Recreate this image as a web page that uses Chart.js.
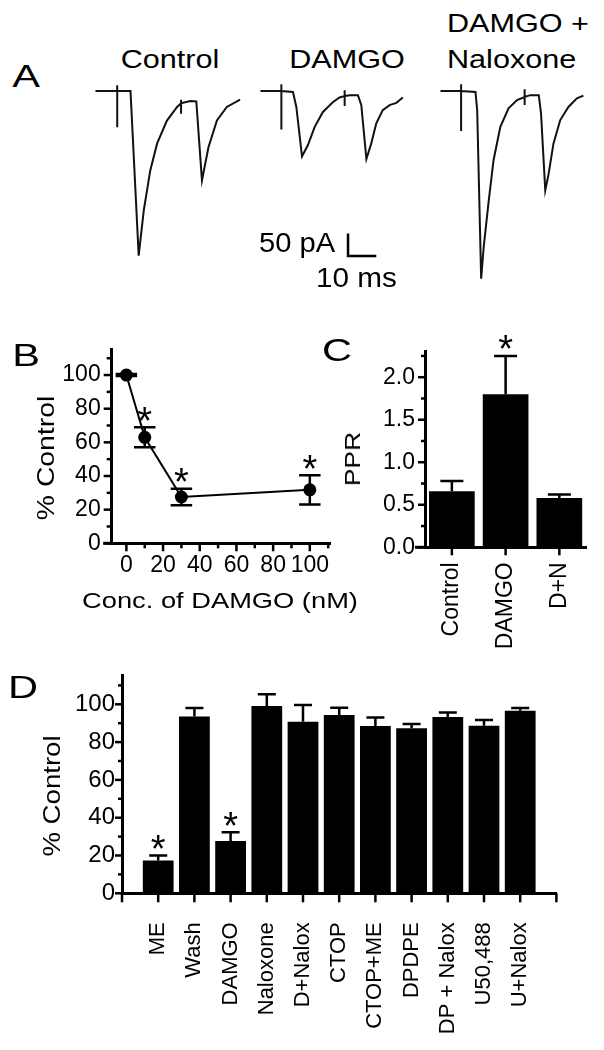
<!DOCTYPE html>
<html>
<head>
<meta charset="utf-8">
<title>DAMGO / opioid receptor figure</title>
<script src="https://cdn.jsdelivr.net/npm/chart.js@4.4.1/dist/chart.umd.min.js"></script>
<style>
  html, body { margin: 0; padding: 0; background: #fff; }
  #fig { position: relative; width: 604px; height: 1050px; overflow: hidden;
         font-family: "Liberation Sans", Arial, sans-serif; color: #000; }
  #fig canvas { position: absolute; }
  .t { position: absolute; white-space: nowrap; line-height: 1; }
</style>
</head>
<body>
<div id="fig">
  <canvas id="trCtrl"  width="161" height="204" style="left:87px;top:82px"></canvas>
  <canvas id="trDamgo" width="161" height="204" style="left:252px;top:82px"></canvas>
  <canvas id="trNalox" width="161" height="204" style="left:432px;top:82px"></canvas>
  <canvas id="chB" width="340" height="300" style="left:0;top:320px"></canvas>
  <canvas id="chC" width="264" height="330" style="left:340px;top:320px"></canvas>
  <canvas id="chD" width="604" height="400" style="left:0;top:650px"></canvas>
</div>
<script>
// ---------- A: example currents (time in ms, current in pA from baseline) ----------
const ctrlT  = [0, 7.7, 7.7, 7.7, 7.7, 12.4, 15.3, 17.1, 19.4, 21.8, 25.3, 28.9, 30.3, 30.3, 30.3, 30.3, 33.6, 35.7, 37.7, 40.0, 43.0, 46.5, 51.2];
const ctrlI  = [0, 0, 13, -80, 0, 0, -363, -263, -175, -116, -65, -35, -27, -19, -50, -27, -22, -23, -197, -124, -65, -35, -19];
const damgoT = [0, 7.4, 7.4, 7.4, 7.4, 11.5, 12.7, 14.7, 16.8, 19.2, 22.1, 25.7, 28.0, 29.8, 29.8, 29.8, 29.8, 31.6, 34.5, 35.7, 37.5, 39.2, 41.0, 43.3, 45.7, 48.1, 50.4];
const damgoI = [0, 0, 15, -85, 0, -2, -35, -144, -119, -79, -46, -24, -14, -11, 2, -33, -11, -9, -9, -31, -150, -116, -71, -42, -31, -26, -14];
const naloxT = [0, 7.3, 7.3, 7.3, 7.3, 12.4, 13.0, 14.4, 15.3, 17.1, 18.8, 21.2, 24.1, 27.1, 29.8, 29.8, 29.8, 29.8, 31.8, 34.8, 35.6, 37.1, 38.3, 40.0, 42.4, 45.3, 48.3, 50.6];
const naloxI = [0, 0, 15, -88, 0, -2, -42, -414, -344, -241, -152, -79, -38, -20, -13, 4, -31, -13, -9, -9, -49, -219, -182, -116, -64, -35, -16, -10];
const scaleBarMs = 10;
const scaleBarPA = 50;
const scaleBarAt = [31, -364];   // ms, pA in the DAMGO trace

// ---------- B: concentration response ----------
const bConc = [0, 10, 30, 100];
const bPct  = [100, 63, 27.5, 31.8];
const bSem  = [0.6, 5.9, 4.9, 8.7];
const bStar = [false, true, true, true];
const bXTicks = [0, 20, 40, 60, 80, 100];
const bXMinor = [10, 30, 50, 70, 90, 110];
const bYTicks = [0, 20, 40, 60, 80, 100];
const bYMinor = [10, 30, 50, 70, 90, 110];

// ---------- C: paired pulse ratio ----------
const cCats = ['Control', 'DAMGO', 'D+N'];
const cPPR  = [0.66, 1.80, 0.58];
const cSem  = [0.12, 0.45, 0.04];
const cStar = [false, true, false];
const cYTicks = [0, 0.5, 1.0, 1.5, 2.0];
const cYMinor = [0.25, 0.75, 1.25, 1.75, 2.25];

// ---------- D: drug panel ----------
const dCats = ['ME', 'Wash', 'DAMGO', 'Naloxone', 'D+Nalox', 'CTOP', 'CTOP+ME', 'DPDPE', 'DP + Nalox', 'U50,488', 'U+Nalox'];
const dPct  = [17.3, 93.5, 27.7, 99.1, 90.8, 94.4, 88.5, 87.3, 93.3, 88.7, 96.6];
const dSem  = [2.7, 4.5, 4.6, 6.2, 8.8, 3.8, 4.5, 2.3, 2.3, 3.0, 1.4];
const dStar = [true, false, true, false, false, false, false, false, false, false, false];
const dXTicks = [-1, 0, 1, 2, 3, 4, 5, 6, 7, 8, 9, 10, 11];
const dYTicks = [0, 20, 40, 60, 80, 100];
const dYMinor = [10, 30, 50, 70, 90, 110];

Chart.defaults.font.family = '"Liberation Sans", Arial, sans-serif';
Chart.defaults.color = '#000';

// tick marks, error bars, stars and the scale bar, all placed through the chart scales
function marks(cfg) {
  return {
    id: 'marks',
    afterDatasetsDraw(chart) {
      const ctx = chart.ctx;
      const area = chart.chartArea;
      ctx.save();
      ctx.strokeStyle = '#000';
      ctx.fillStyle = '#000';
      if (cfg.xLead) {
        ctx.lineWidth = 3;
        ctx.beginPath();
        ctx.moveTo(area.left - cfg.xLead, area.bottom);
        ctx.lineTo(area.left, area.bottom);
        ctx.stroke();
      }
      ctx.lineWidth = 2.5;
      (cfg.ticks || []).forEach(tk => {
        const sc = chart.scales[tk.axis];
        tk.values.forEach(v => {
          const p = sc.getPixelForValue(v);
          ctx.beginPath();
          if (tk.axis === 'y') {
            ctx.moveTo(area.left, p);
            ctx.lineTo(area.left - tk.len, p);
          } else {
            ctx.moveTo(p, area.bottom);
            ctx.lineTo(p, area.bottom + tk.len);
          }
          ctx.stroke();
        });
      });
      if (cfg.err) {
        const ys = chart.scales.y;
        const half = cfg.cap / 2;
        chart.getDatasetMeta(0).data.forEach((el, i) => {
          const v = cfg.values[i];
          const top = ys.getPixelForValue(v + cfg.err[i]);
          const bot = ys.getPixelForValue(cfg.both ? v - cfg.err[i] : v);
          ctx.beginPath();
          ctx.moveTo(el.x, bot);
          ctx.lineTo(el.x, top);
          ctx.moveTo(el.x - half, top);
          ctx.lineTo(el.x + half, top);
          if (cfg.both) {
            ctx.moveTo(el.x - half, bot);
            ctx.lineTo(el.x + half, bot);
          }
          ctx.stroke();
          if (cfg.stars && cfg.stars[i]) {
            ctx.font = '38px "Liberation Sans"';
            ctx.textAlign = 'center';
            ctx.textBaseline = 'alphabetic';
            ctx.fillText('*', el.x, top - 15.5 + 0.58 * 38);
          }
        });
      }
      if (cfg.scaleBar) {
        const xs = chart.scales.x, ys = chart.scales.y;
        const x0 = xs.getPixelForValue(scaleBarAt[0]);
        const y0 = ys.getPixelForValue(scaleBarAt[1]);
        const x1 = xs.getPixelForValue(scaleBarAt[0] + scaleBarMs);
        const y1 = ys.getPixelForValue(scaleBarAt[1] + scaleBarPA);
        ctx.lineWidth = 2.5;
        ctx.beginPath();
        ctx.moveTo(x0, y1);
        ctx.lineTo(x0, y0);
        ctx.lineTo(x1, y0);
        ctx.stroke();
      }
      ctx.restore();
    }
  };
}

function traceChart(id, t, cur, withBar) {
  return new Chart(document.getElementById(id), {
    type: 'scatter',
    data: {
      datasets: [{
        data: t.map((v, k) => ({ x: v, y: cur[k] })),
        showLine: true, borderColor: '#111', borderWidth: 2,
        pointRadius: 0, tension: 0
      }]
    },
    options: {
      responsive: false, animation: false,
      layout: { autoPadding: false, padding: 0 },
      plugins: { legend: { display: false }, tooltip: { enabled: false } },
      scales: {
        x: { type: 'linear', display: false, min: -3, max: 54 },
        y: { display: false, min: -430, max: 20 }
      }
    },
    plugins: withBar ? [marks({ scaleBar: true })] : []
  });
}

traceChart('trCtrl', ctrlT, ctrlI, false);
traceChart('trDamgo', damgoT, damgoI, true);
traceChart('trNalox', naloxT, naloxI, false);

const axisLook = {
  grid: { drawOnChartArea: false, drawTicks: false },
  border: { color: '#000', width: 3 }
};

// B
new Chart(document.getElementById('chB'), {
  type: 'scatter',
  data: {
    datasets: [{
      data: bConc.map((x, k) => ({ x: x, y: bPct[k] })),
      showLine: true, borderColor: '#000', borderWidth: 2,
      pointRadius: 6.5, pointBackgroundColor: '#000', pointBorderWidth: 0, clip: false
    }]
  },
  options: {
    responsive: false, animation: false,
    layout: { autoPadding: false, padding: { top: 29.8, right: 10, left: 0, bottom: 0 } },
    plugins: { legend: { display: false }, tooltip: { enabled: false } },
    scales: {
      x: {
        type: 'linear', min: -8, max: 111, ...axisLook,
        afterFit: s => { s.height = 76.7; },
        afterBuildTicks: s => { s.ticks = bXTicks.map(v => ({ value: v })); },
        ticks: { autoSkip: false, maxRotation: 0, padding: 9, font: { size: 23 } }
      },
      y: {
        min: 0, max: 115, ...axisLook,
        afterFit: s => { s.width = 111.7; },
        afterBuildTicks: s => { s.ticks = bYTicks.map(v => ({ value: v })); },
        ticks: { padding: 11, font: { size: 23 } }
      }
    }
  },
  plugins: [marks({
    ticks: [
      { axis: 'y', values: bYTicks, len: 8 }, { axis: 'y', values: bYMinor, len: 5 },
      { axis: 'x', values: bXTicks, len: 8 }, { axis: 'x', values: bXMinor, len: 5 }
    ],
    xLead: 8.5,
    values: bPct, err: bSem, both: true, cap: 21.5, stars: bStar
  })]
});

// C
new Chart(document.getElementById('chC'), {
  type: 'bar',
  data: {
    labels: cCats,
    datasets: [{ data: cPPR, backgroundColor: '#000', barPercentage: 0.85, categoryPercentage: 1 }]
  },
  options: {
    responsive: false, animation: false,
    layout: { autoPadding: false, padding: { top: 31.7, right: 12.3, left: 0, bottom: 0 } },
    plugins: { legend: { display: false }, tooltip: { enabled: false } },
    scales: {
      x: {
        type: 'category', ...axisLook,
        afterFit: s => { s.height = 102.7; },
        ticks: { autoSkip: false, minRotation: 90, maxRotation: 90, padding: 15, font: { size: 23 } }
      },
      y: {
        min: 0, max: 2.3, ...axisLook,
        afterFit: s => { s.width = 85; },
        afterBuildTicks: s => { s.ticks = cYTicks.map(v => ({ value: v })); },
        ticks: { padding: 10, font: { size: 23 }, callback: v => v.toFixed(1) }
      }
    }
  },
  plugins: [marks({
    ticks: [
      { axis: 'y', values: cYTicks, len: 7 }, { axis: 'y', values: cYMinor, len: 4 },
      { axis: 'x', values: cCats.map((c, i) => i), len: 8 }
    ],
    xLead: 10,
    values: cPPR, err: cSem, both: false, cap: 23, stars: cStar
  })]
});

// D
new Chart(document.getElementById('chD'), {
  type: 'bar',
  data: {
    datasets: [{
      data: dPct.map((y, i) => ({ x: i, y: y })),
      backgroundColor: '#000', barPercentage: 0.85, categoryPercentage: 1
    }]
  },
  options: {
    responsive: false, animation: false,
    layout: { autoPadding: false, padding: { top: 25, right: 47.6, left: 0, bottom: 0 } },
    plugins: { legend: { display: false }, tooltip: { enabled: false } },
    scales: {
      x: {
        type: 'linear', min: -1, max: 11, offset: false,
        grid: { offset: false, drawOnChartArea: false, drawTicks: false },
        border: { color: '#000', width: 3 },
        afterFit: s => { s.height = 156.7; },
        afterBuildTicks: s => { s.ticks = dCats.map((c, i) => ({ value: i })); },
        ticks: { autoSkip: false, minRotation: 90, maxRotation: 90, padding: 29, font: { size: 22 },
                 callback: v => dCats[v] }
      },
      y: {
        min: 0, max: 115.5, ...axisLook,
        afterFit: s => { s.width = 122; },
        afterBuildTicks: s => { s.ticks = dYTicks.map(v => ({ value: v })); },
        ticks: { padding: 7, font: { size: 24 } }
      }
    }
  },
  plugins: [marks({
    ticks: [
      { axis: 'y', values: dYTicks, len: 7 }, { axis: 'y', values: dYMinor, len: 4 },
      { axis: 'x', values: dXTicks, len: 9 }
    ],
    values: dPct, err: dSem, both: false, cap: 18, stars: dStar
  })]
});

// ---------- text: panel letters, trace labels, axis titles ----------
const fig = document.getElementById('fig');
function addText(txt, x, y, size, sx, mode) {
  const el = document.createElement('div');
  el.className = 't';
  el.textContent = txt;
  el.style.fontSize = size + 'px';
  if (mode === 'rot') {
    el.style.left = x + 'px';
    el.style.top = y + 'px';
    el.style.transform = 'translate(-50%,-50%) rotate(-90deg) scaleX(' + sx + ')';
  } else {
    el.style.top = (y - 0.488 * size) + 'px';
    el.style.left = x + 'px';
    if (mode === 'left') {
      el.style.transformOrigin = '0 50%';
      el.style.transform = 'scaleX(' + sx + ')';
    } else {
      el.style.transform = 'translateX(-50%) scaleX(' + sx + ')';
    }
  }
  fig.appendChild(el);
}

addText('A', 26, 76, 32, 1.3);
addText('Control', 170.3, 59.2, 25.5, 1.2);
addText('DAMGO', 346.7, 59.2, 25.5, 1.2);
addText('DAMGO +', 447, 23.3, 25.5, 1.2, 'left');
addText('Naloxone', 447, 59.2, 25.5, 1.2, 'left');
addText('50 pA', 259, 243.5, 27, 1.08, 'left');
addText('10 ms', 315.5, 278.3, 27, 1.1, 'left');

addText('B', 26.3, 355, 32, 1.3);
addText('% Control', 45.8, 457.5, 24, 1.18, 'rot');
addText('Conc. of DAMGO (nM)', 220, 600.5, 22, 1.24);

addText('C', 336.7, 350, 32, 1.3);
addText('PPR', 353.3, 458.5, 22, 1.2, 'rot');

addText('D', 23, 686.7, 32, 1.3);
addText('% Control', 52, 795.8, 24, 1.15, 'rot');
</script>
</body>
</html>
